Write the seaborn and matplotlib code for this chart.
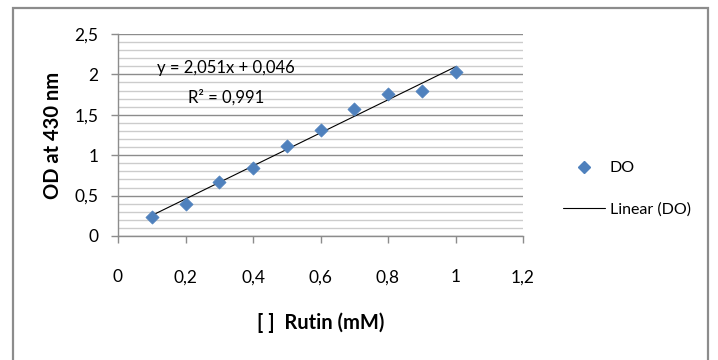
import numpy as np
import pandas as pd
import matplotlib
matplotlib.use("Agg")
import matplotlib.pyplot as plt
import seaborn as sns
from matplotlib.lines import Line2D
from matplotlib.patches import Rectangle
from matplotlib.ticker import MultipleLocator

# 数据
rutin_mm = [0.1, 0.2, 0.3, 0.4, 0.5, 0.6, 0.7, 0.8, 0.9, 1.0]
od_430 = [0.24, 0.40, 0.67, 0.84, 1.12, 1.31, 1.57, 1.76, 1.80, 2.03]
x_ticks = [0, 0.2, 0.4, 0.6, 0.8, 1.0, 1.2]
x_tick_labels = ["0", "0,2", "0,4", "0,6", "0,8", "1", "1,2"]
y_ticks = [0, 0.5, 1.0, 1.5, 2.0, 2.5]
y_tick_labels = ["0", "0,5", "1", "1,5", "2", "2,5"]
eq_text = "y = 2,051x + 0,046"
r2_text = "R² = 0,991"

df = pd.DataFrame({"x": rutin_mm, "y": od_430})

sns.set_theme(style="white")
plt.rcParams['font.family'] = ['Lato', 'DejaVu Sans']
plt.rcParams['text.color'] = 'black'
plt.rcParams['axes.labelcolor'] = 'black'

W, H = 718, 360
fig = plt.figure(figsize=(W / 100, H / 100), dpi=100)
ax = fig.add_axes([118 / W, 1 - 236 / H, 405 / W, 202 / H])

blue = "#4F81BD"

# 网格线
ax.set_axisbelow(True)
ax.yaxis.set_major_locator(MultipleLocator(0.5))
ax.yaxis.set_minor_locator(MultipleLocator(0.1))
ax.grid(which="major", axis="y", color="#8c8c8c", lw=1.0)
ax.grid(which="minor", axis="y", color="#cccccc", lw=1.0)

# 趋势线 + 散点
sns.regplot(data=df, x="x", y="y", ax=ax, scatter=False, ci=None,
            truncate=True, line_kws=dict(color="black", lw=0.8))
sns.scatterplot(data=df, x="x", y="y", ax=ax, marker="D", s=45,
                color=blue, edgecolor=blue, linewidth=0.5, zorder=3)

ax.set_xlim(0, 1.2)
ax.set_ylim(0, 2.5)
ax.set_xticks(x_ticks)
ax.set_xticklabels(x_tick_labels)
ax.set_yticks(y_ticks)
ax.set_yticklabels(y_tick_labels)

for side in ["top", "right"]:
    ax.spines[side].set_visible(False)
for side in ["left", "bottom"]:
    ax.spines[side].set_color("#8c8c8c")
    ax.spines[side].set_linewidth(1.0)

ax.tick_params(axis="x", which="major", direction="out", length=5,
               color="#8c8c8c", labelcolor="black", width=1.0, pad=19,
               labelsize=12.5, bottom=True)
ax.tick_params(axis="y", which="major", direction="out", length=5,
               color="#8c8c8c", labelcolor="black", width=1.0, pad=9,
               labelsize=12.5, left=True)
ax.tick_params(axis="y", which="minor", length=0)

ax.set_xlabel("[ ]  Rutin (mM)", fontsize=14.5, fontweight="bold", labelpad=0)
ax.xaxis.set_label_coords(0.5, -(312 - 236) / 202, transform=ax.transAxes)
ax.set_ylabel("OD at 430 nm", fontsize=14.5, fontweight="bold")
ax.yaxis.set_label_coords(-(118 - 63) / 405, 0.5)

# 方程文字
fig.text(226 / W, 1 - 68 / H, eq_text, ha="center", va="center", fontsize=12)
fig.text(226 / W, 1 - 97 / H, r2_text, ha="center", va="center", fontsize=12)

# 图例
handles = [
    Line2D([], [], marker="D", ls="none", color=blue, markersize=6),
    Line2D([], [], color="black", lw=0.8),
]
fig.legend(handles, ["DO", "Linear (DO)"], loc="center left",
           bbox_to_anchor=(549 / W, 1 - 189 / H), frameon=False,
           fontsize=11.5, labelspacing=1.7, handlelength=2.6,
           handletextpad=0.3)

# 外框
fig.patches.append(Rectangle((13 / W, -0.05), (708 - 13) / W, 1.05 - 8 / H,
                             transform=fig.transFigure, fill=False,
                             edgecolor="#8c8c8c", lw=1.6))

fig.savefig("out.png", dpi=100)
